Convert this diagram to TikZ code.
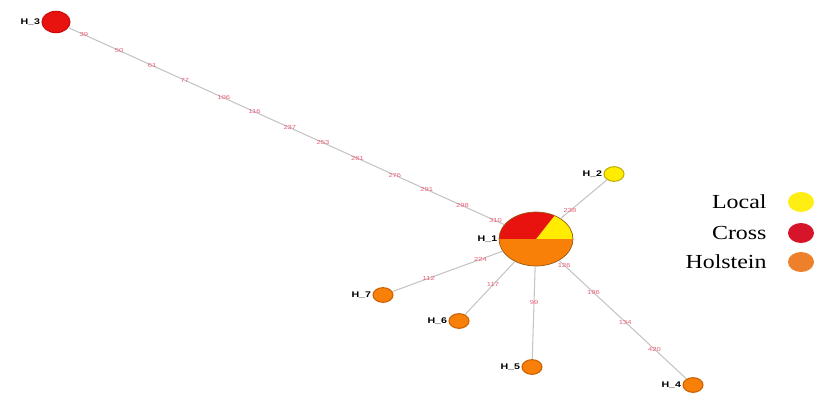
\documentclass[tikz,border=0pt]{standalone}
\usepackage{fontspec}
\setmainfont{Liberation Serif}
\setsansfont{Liberation Sans}
\newfontfamily\widesans[FakeStretch=1.3]{Liberation Sans}
\newfontfamily\wideserif[FakeStretch=1.2]{Liberation Serif}
\usetikzlibrary{positioning, shapes.geometric}

\definecolor{localc}{RGB}{255,236,0}
\definecolor{crossc}{RGB}{232,18,14}
\definecolor{holc}{RGB}{248,128,8}
\definecolor{edgec}{RGB}{196,196,196}
\definecolor{mutc}{RGB}{236,96,120}
\definecolor{leglocal}{RGB}{255,238,20}
\definecolor{legcross}{RGB}{214,20,42}
\definecolor{leghol}{RGB}{238,128,44}

\begin{document}
\begin{tikzpicture}[
    x=0.03cm, y=-0.03cm,
    hap/.style={
        ellipse,
        draw,
        inner sep=0pt,
        line width=0.9pt,
        minimum width=0.6cm,
        minimum height=0.44cm
    },
    hlab/.style={
        font=\widesans\bfseries\fontsize{7}{8}\selectfont,
        inner sep=1pt
    },
    edge/.style={draw=edgec, line width=0.9pt},
    mut/.style={
        font=\widesans\fontsize{5}{6}\selectfont,
        text=mutc,
        inner sep=0.5pt
    },
    legtext/.style={
        font=\wideserif\fontsize{17}{20}\selectfont,
        inner sep=0pt
    },
    legdot/.style={
        ellipse,
        inner sep=0pt,
        minimum width=0.78cm,
        minimum height=0.6cm
    }
]
\useasboundingbox (0,0) rectangle (815,394);

% central haplotype as a pie
\coordinate (c1) at (536,239);
\fill[localc] (c1) -- ++(1.11cm,0)
    arc[start angle=0, end angle=60, x radius=1.11cm, y radius=0.81cm] -- cycle;
\fill[crossc] (c1) -- ++(60:1.11cm and 0.81cm)
    arc[start angle=60, end angle=180, x radius=1.11cm, y radius=0.81cm] -- cycle;
\fill[holc] (c1) -- ++(-1.11cm,0)
    arc[start angle=180, end angle=360, x radius=1.11cm, y radius=0.81cm] -- cycle;
\node[hap, draw={rgb,255:red,150;green,90;blue,20}, line width=0.6pt,
    minimum width=2.22cm, minimum height=1.62cm,
    label={[hlab]left:H\_1}] (H1) at (c1) {};

\node[hap, fill=localc, draw={rgb,255:red,190;green,175;blue,0},
    label={[hlab]left:H\_2}] (H2) at (614,174) {};
\node[hap, fill=crossc, draw={rgb,255:red,205;green,10;blue,10},
    minimum width=0.84cm, minimum height=0.64cm,
    label={[hlab]left:H\_3}] (H3) at (56,22) {};
\node[hap, fill=holc, draw={rgb,255:red,205;green,95;blue,0},
    label={[hlab]left:H\_4}] (H4) at (693,385) {};
\node[hap, fill=holc, draw={rgb,255:red,205;green,95;blue,0},
    label={[hlab]left:H\_5}] (H5) at (532,367) {};
\node[hap, fill=holc, draw={rgb,255:red,205;green,95;blue,0},
    label={[hlab]left:H\_6}] (H6) at (459,321) {};
\node[hap, fill=holc, draw={rgb,255:red,205;green,95;blue,0},
    label={[hlab]left:H\_7}] (H7) at (383,295) {};

% mutational steps
\draw[edge] (H3) --
    node[mut, pos=0.035] {39}
    node[mut, pos=0.116] {50}
    node[mut, pos=0.192] {61}
    node[mut, pos=0.267] {77}
    node[mut, pos=0.356] {106}
    node[mut, pos=0.427] {116}
    node[mut, pos=0.508] {237}
    node[mut, pos=0.584] {253}
    node[mut, pos=0.663] {261}
    node[mut, pos=0.749] {276}
    node[mut, pos=0.822] {291}
    node[mut, pos=0.904] {298}
    node[mut, pos=0.980] {310} (H1);
\draw[edge] (H1) -- node[mut, pos=0.2] {238} (H2);
\draw[edge] (H1) --
    node[mut, pos=0.2] {224}
    node[mut, pos=0.67] {112} (H7);
\draw[edge] (H1) -- node[mut, pos=0.44] {117} (H6);
\draw[edge] (H1) -- node[mut, pos=0.39] {99} (H5);
\draw[edge] (H1) --
    node[mut, pos=0.04] {126}
    node[mut, pos=0.27] {196}
    node[mut, pos=0.52] {134}
    node[mut, pos=0.75] {420} (H4);

% legend
\node[legdot, fill=leglocal] (dlocal) at (801,202) {};
\node[legdot, fill=legcross] (dcross) at (801,233) {};
\node[legdot, fill=leghol] (dhol) at (801,262) {};
\node[legtext, left=0.63cm of dlocal] (tlocal) {Local};
\node[legtext, left=0.63cm of dcross] (tcross) {Cross};
\node[legtext, left=0.63cm of dhol] (thol) {Holstein};

\end{tikzpicture}
\end{document}
